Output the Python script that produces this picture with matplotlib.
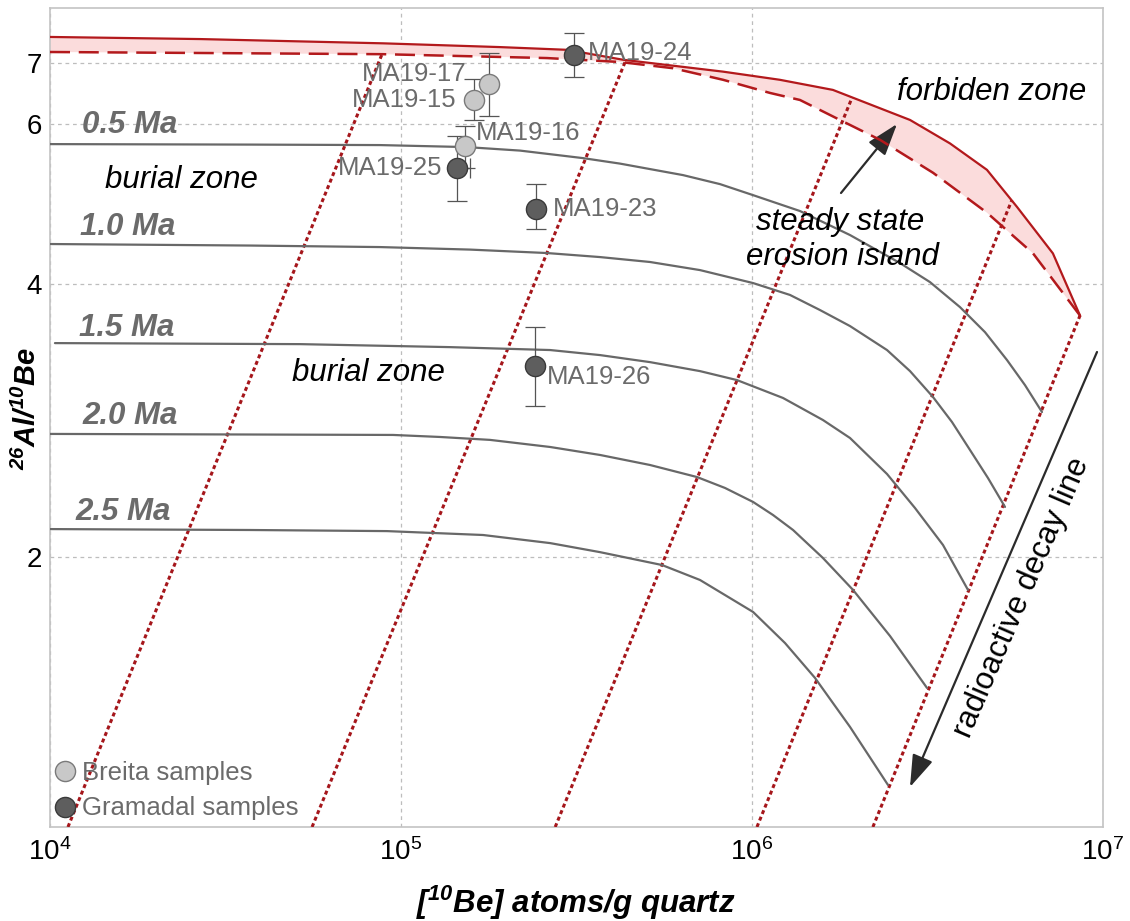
import numpy as np
import matplotlib
matplotlib.use('Agg')
import matplotlib.pyplot as plt
from matplotlib.lines import Line2D
from matplotlib.ticker import NullLocator

plt.rcParams['font.family'] = ['Liberation Sans', 'DejaVu Sans']
plt.rcParams['mathtext.fontset'] = 'custom'
plt.rcParams['mathtext.rm'] = 'Liberation Sans'
plt.rcParams['mathtext.it'] = 'Liberation Sans:italic'
plt.rcParams['mathtext.bf'] = 'Liberation Sans:italic:bold'

# ---------------- data ----------------
# constant exposure curve (solid red)
exposure_n = [1.0e4, 2.68e4, 8.89e4, 1.915e5, 2.97e5, 4.29e5, 8.27e5, 1.20e6,
              1.70e6, 2.82e6, 3.665e6, 4.67e6, 5.69e6, 7.20e6, 8.60e6]
exposure_r = [7.48, 7.44, 7.36, 7.29, 7.24, 7.06, 6.85, 6.71,
              6.54, 6.06, 5.71, 5.34, 4.86, 4.32, 3.69]
# steady-state erosion curve (dashed red)
erosion_n = [1.0e4, 8.89e4, 2.606e5, 4.206e5, 5.955e5, 8.27e5, 1.125e6, 1.37e6,
             1.781e6, 2.32e6, 3.28e6, 4.67e6, 6.32e6, 8.60e6]
erosion_r = [7.20, 7.16, 7.09, 7.02, 6.91, 6.71, 6.49, 6.375,
             6.06, 5.76, 5.30, 4.79, 4.32, 3.69]
# radioactive decay lines (dotted red): top and bottom end points
decay_n_top = [8.83e4, 4.35e5, 1.93e6, 5.50e6, 8.60e6]
decay_r_top = [7.16, 7.02, 6.42, 4.945, 3.69]
decay_n_bottom = [1.125e4, 5.58e4, 2.75e5, 1.033e6, 2.21e6]
decay_r_bottom = [1.0085, 1.0085, 1.0085, 1.0085, 1.0085]

# burial isochrons (grey)
iso_labels = ['0.5 Ma', '1.0 Ma', '1.5 Ma', '2.0 Ma', '2.5 Ma']
iso_05_n = [1.0e4, 3.714e4, 8.71e4, 1.54e5, 2.183e5, 3.30e5, 4.206e5, 6.36e5,
            8.107e5, 1.007e6, 1.370e6, 1.902e6, 2.641e6, 3.214e6, 3.913e6,
            4.611e6, 5.328e6, 5.995e6, 6.702e6]
iso_05_r = [5.700, 5.693, 5.686, 5.657, 5.607, 5.501, 5.425, 5.269,
            5.150, 5.008, 4.810, 4.526, 4.215, 4.017, 3.770,
            3.538, 3.296, 3.093, 2.889]
iso_10_n = [1.0e4, 3.714e4, 8.71e4, 1.573e5, 2.606e5, 3.690e5, 5.12e5, 7.109e5,
            1.007e6, 1.283e6, 1.562e6, 1.902e6, 2.4245e6, 2.82e6, 3.279e6,
            3.713e6, 4.179e6, 4.702e6, 5.258e6]
iso_10_r = [4.424, 4.407, 4.390, 4.362, 4.324, 4.280, 4.227, 4.141,
            4.007, 3.888, 3.742, 3.593, 3.381, 3.205, 3.001,
            2.817, 2.624, 2.444, 2.271]
iso_15_n = [1.033e4, 5.16e4, 1.38e5, 2.66e5, 3.69e5, 5.12e5, 7.109e5, 9.06e5,
            1.2255e6, 1.593e6, 1.902e6, 2.4245e6, 2.913e6, 3.501e6, 4.124e6]
iso_15_r = [3.441, 3.432, 3.406, 3.381, 3.338, 3.279, 3.205, 3.133,
            2.994, 2.831, 2.705, 2.469, 2.265, 2.062, 1.840]
iso_20_n = [1.0e4, 3.714e4, 9.49e4, 1.2915e5, 1.793e5, 2.66e5, 3.69e5, 5.12e5,
            6.97e5, 8.377e5, 1.007e6, 1.148e6, 1.309e6, 1.593e6, 1.940e6,
            2.473e6, 3.152e6]
iso_20_r = [2.733, 2.729, 2.726, 2.712, 2.692, 2.644, 2.591, 2.526,
            2.450, 2.383, 2.300, 2.225, 2.142, 1.995, 1.840,
            1.637, 1.435]
iso_25_n = [1.0e4, 3.714e4, 9.12e4, 1.713e5, 2.66e5, 3.69e5, 5.54e5, 7.109e5,
            1.007e6, 1.242e6, 1.5115e6, 1.902e6, 2.440e6]
iso_25_r = [2.147, 2.142, 2.136, 2.115, 2.072, 2.025, 1.960, 1.887,
            1.740, 1.608, 1.472, 1.300, 1.122]

# samples
breita_names = ['MA19-17', 'MA19-15', 'MA19-16']
breita_n = [1.781e5, 1.614e5, 1.521e5]
breita_r = [6.64, 6.375, 5.671]
breita_err_up = [0.54, 0.35, 0.30]
breita_err_down = [0.52, 0.32, 0.30]

gramadal_names = ['MA19-24', 'MA19-25', 'MA19-23', 'MA19-26']
gramadal_n = [3.111e5, 1.444e5, 2.424e5, 2.408e5]
gramadal_r = [7.14, 5.365, 4.834, 3.246]
gramadal_err_up = [0.41, 0.45, 0.32, 0.34]
gramadal_err_down = [0.39, 0.43, 0.24, 0.31]
gramadal_xerr_right = [0.0, 1.3e4, 0.0, 0.0]

xtick_values = [1e4, 1e5, 1e6, 1e7]
xtick_labels = [r'$\mathdefault{10^{4}}$', r'$\mathdefault{10^{5}}$',
                r'$\mathdefault{10^{6}}$', r'$\mathdefault{10^{7}}$']
ytick_values = [2, 4, 6, 7]
ytick_labels = ['2', '4', '6', '7']

# ---------------- figure ----------------
W, H = 1130, 921
fig = plt.figure(figsize=(W / 100, H / 100), dpi=100)
ax = fig.add_axes([50 / W, 1 - 827 / H, 1053 / W, 819 / H])
ax.set_xscale('log')
ax.set_yscale('log')
ax.set_xlim(1e4, 1e7)
ax.set_ylim(1.0085, 8.05)


def fx(px):
    return px / W


def fy(py):
    return 1 - py / H


RED = '#b3191c'
DOT_RED = '#a5161b'
PINK = '#fbdcdc'
GREY_LINE = '#686868'
GREY_TXT = '#6b6b6b'

# band between exposure and erosion curves
ax.fill(np.concatenate([exposure_n, erosion_n[::-1]]),
        np.concatenate([exposure_r, erosion_r[::-1]]),
        color=PINK, lw=0, zorder=1)
ax.plot(exposure_n, exposure_r, color=RED, lw=1.6, zorder=4)
ax.plot(erosion_n, erosion_r, color=RED, lw=1.8, ls=(0, (8, 3.5)), zorder=4)

for nt, rt, nb, rb in zip(decay_n_top, decay_r_top, decay_n_bottom, decay_r_bottom):
    ax.plot([nb, nt], [rb, rt], color=DOT_RED, lw=2.2, ls=(0, (1.3, 1.0)), zorder=3)

for n, r in [(iso_05_n, iso_05_r), (iso_10_n, iso_10_r), (iso_15_n, iso_15_r),
             (iso_20_n, iso_20_r), (iso_25_n, iso_25_r)]:
    ax.plot(n, r, color=GREY_LINE, lw=1.6, zorder=3, solid_capstyle='round',
            solid_joinstyle='round')

# samples
ax.errorbar(breita_n, breita_r, yerr=[breita_err_down, breita_err_up], fmt='none',
            ecolor='#555555', elinewidth=0.9, capsize=7, capthick=0.9, zorder=5)
ax.errorbar(gramadal_n, gramadal_r, yerr=[gramadal_err_down, gramadal_err_up],
            xerr=[[0, 0, 0, 0], gramadal_xerr_right], fmt='none',
            ecolor='#555555', elinewidth=0.9, capsize=7, capthick=0.9, zorder=5)
ax.plot(breita_n, breita_r, 'o', ms=14.5, mfc='#c8c8c8', mec='#7a7a7a', mew=1.0, zorder=6)
ax.plot(gramadal_n, gramadal_r, 'o', ms=14.5, mfc='#5e5e5e', mec='#3a3a3a', mew=1.0, zorder=6)

label_offsets = {
    'MA19-17': (-22, 10, 'right'),
    'MA19-15': (-17, 0, 'right'),
    'MA19-16': (11, 13, 'left'),
    'MA19-24': (14, 2, 'left'),
    'MA19-25': (-15, 0, 'right'),
    'MA19-23': (17, 0, 'left'),
    'MA19-26': (12, -11, 'left'),
}
for names, ns, rs in [(breita_names, breita_n, breita_r),
                      (gramadal_names, gramadal_n, gramadal_r)]:
    for name, n, r in zip(names, ns, rs):
        dx, dy, ha = label_offsets[name]
        ax.annotate(name, (n, r), xytext=(dx, dy), textcoords='offset pixels',
                    ha=ha, va='center', fontsize=18.5, color=GREY_TXT, zorder=7)

# grid / axes styling
ax.set_xticks(xtick_values)
ax.set_xticklabels(xtick_labels)
ax.set_yticks(ytick_values)
ax.set_yticklabels(ytick_labels)
ax.xaxis.set_minor_locator(NullLocator())
ax.yaxis.set_minor_locator(NullLocator())
ax.tick_params(axis='both', length=0, labelsize=20, colors='black')
ax.tick_params(axis='y', pad=6)
ax.tick_params(axis='x', pad=8)
ax.grid(True, which='major', color='#bdbdbd', lw=0.9, ls=(0, (3, 3)))
ax.set_axisbelow(True)
for s in ax.spines.values():
    s.set_color('#c4c4c4')
    s.set_linewidth(1.2)

# isochron labels
iso_label_pos = [(82, 133), (80, 235), (79, 336), (82, 424), (75, 520)]
for lab, (px, py) in zip(iso_labels, iso_label_pos):
    fig.text(fx(px), fy(py), lab, fontsize=22.5, fontweight='bold', fontstyle='italic',
             color=GREY_TXT, ha='left', va='baseline')

# annotations
fig.text(fx(105), fy(188), 'burial zone', fontsize=22.5, fontstyle='italic', ha='left', va='baseline')
fig.text(fx(292), fy(381), 'burial zone', fontsize=22.5, fontstyle='italic', ha='left', va='baseline')
fig.text(fx(897), fy(100), 'forbiden zone', fontsize=22.5, fontstyle='italic', ha='left', va='baseline')
fig.text(fx(840), fy(230), 'steady state', fontsize=22.5, fontstyle='italic', ha='center', va='baseline')
fig.text(fx(842), fy(265), 'erosion island', fontsize=22.5, fontstyle='italic', ha='center', va='baseline')
fig.text(fx(1022), fy(598), 'radioactive decay line', fontsize=22.5, rotation=66.7,
         rotation_mode='anchor', ha='center', va='center')

ax.annotate('', xy=(897, H - 124), xytext=(841, H - 193), xycoords='figure pixels',
            textcoords='figure pixels',
            arrowprops=dict(arrowstyle='-|>,head_length=0.9,head_width=0.3', color='#2b2b2b',
                            lw=1.6, mutation_scale=22, shrinkA=0, shrinkB=0))
ax.annotate('', xy=(910, H - 787), xytext=(1097, H - 352), xycoords='figure pixels',
            textcoords='figure pixels',
            arrowprops=dict(arrowstyle='-|>,head_length=0.9,head_width=0.3', color='#2b2b2b',
                            lw=1.6, mutation_scale=22, shrinkA=0, shrinkB=0))

# legend (manual)
fig.add_artist(Line2D([fx(65)], [fy(771)], marker='o', ms=14.5, mfc='#c8c8c8', mec='#7a7a7a',
                      mew=1.0, ls='none'))
fig.add_artist(Line2D([fx(65)], [fy(807)], marker='o', ms=14.5, mfc='#5e5e5e', mec='#3a3a3a',
                      mew=1.0, ls='none'))
fig.text(fx(82), fy(780), 'Breita samples', fontsize=18.5, color=GREY_TXT, ha='left', va='baseline')
fig.text(fx(82), fy(815), 'Gramadal samples', fontsize=18.5, color=GREY_TXT, ha='left', va='baseline')

# axis labels
fig.text(fx(27), fy(408), r'$\mathbf{^{26}Al/^{10}Be}$', fontsize=21, rotation=90,
         ha='center', va='center')
fig.text(fx(576), fy(903), r'$\mathbf{[^{10}Be]\ atoms/g\ quartz}$', fontsize=22.5,
         ha='center', va='center')

fig.savefig('out.png', dpi=100)
